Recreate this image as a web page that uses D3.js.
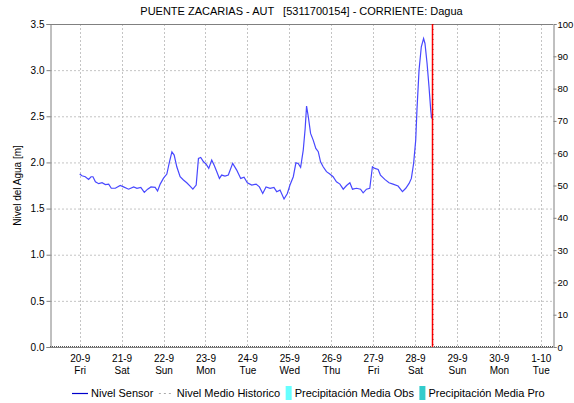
<!DOCTYPE html>
<html>
<head>
<meta charset="utf-8">
<script src="https://cdn.jsdelivr.net/npm/d3@7"></script>
<style>
  body { margin: 0; background: #fff; }
  svg { font-family: "Liberation Sans", Arial, sans-serif; }
</style>
</head>
<body>
<svg id="chart" width="574" height="403"></svg>
<script>
const title = "PUENTE ZACARIAS - AUT   [5311700154] - CORRIENTE: Dagua";
const yLabel = "Nivel del Agua [m]";

// hours after 20-9 00:00
const hours = [0, 1.3, 3.2, 5.1, 6.5, 7.6, 9.0, 10.9, 12.8, 14.7, 16.6, 18.1, 20.4, 23.2,
  25.1, 28.0, 30.9, 32.8, 35.0, 37.0, 38.9, 40.8, 43.2, 44.6, 46.1, 48.0, 49.9, 51.4,
  52.8, 54.1, 55.6, 57.5, 59.4, 61.3, 63.2, 64.8, 66.7, 68.0, 69.3, 70.9, 72.4, 73.9,
  75.6, 77.0, 78.5, 80.0, 81.3, 83.2, 85.1, 87.6, 89.9, 92.2, 94.1, 96.0, 98.5, 101.0,
  102.9, 104.8, 106.7, 109.0, 111.2, 112.8, 114.7, 117.0, 118.9, 120.4, 122.3, 123.8,
  125.1, 126.5, 128.0, 129.1, 129.9, 130.9, 132.2, 133.7, 135.2, 136.6, 137.9, 139.4,
  141.3, 143.2, 145.1, 147.0, 149.0, 150.9, 152.8, 154.7, 156.2, 158.5, 160.8, 162.3,
  164.2, 166.1, 167.6, 169.0, 170.9, 172.2, 174.7, 177.1, 179.4, 182.3, 184.8, 186.7,
  188.6, 189.9, 191.2, 192.4, 193.1, 194.3, 195.6, 196.9, 197.7, 198.9, 200.0, 201.0, 201.5];

const nivelSensor = [1.874, 1.856, 1.845, 1.816, 1.845, 1.845, 1.79, 1.77, 1.78, 1.76, 1.765,
  1.72, 1.72, 1.75, 1.735, 1.71, 1.735, 1.72, 1.73, 1.675, 1.71, 1.735, 1.73, 1.69, 1.765,
  1.83, 1.874, 2.007, 2.115, 2.08, 1.953, 1.845, 1.81, 1.78, 1.744, 1.71, 1.755, 2.043,
  2.054, 2.007, 1.982, 1.935, 2.025, 1.97, 1.9, 1.827, 1.863, 1.852, 1.863, 1.99, 1.917,
  1.827, 1.84, 1.78, 1.755, 1.765, 1.735, 1.664, 1.735, 1.72, 1.73, 1.683, 1.70, 1.603,
  1.664, 1.755, 1.845, 1.996, 1.989, 1.946, 2.134, 2.368, 2.61, 2.495, 2.314, 2.242, 2.152,
  2.116, 2.007, 1.953, 1.90, 1.874, 1.845, 1.79, 1.765, 1.71, 1.75, 1.78, 1.71, 1.72, 1.71,
  1.671, 1.71, 1.72, 1.953, 1.935, 1.924, 1.863, 1.816, 1.78, 1.765, 1.744, 1.683, 1.72,
  1.773, 1.827, 1.99, 2.242, 2.567, 3.0, 3.253, 3.343, 3.289, 3.072, 2.82, 2.567, 2.476];

const dayLabels = ["20-9", "21-9", "22-9", "23-9", "24-9", "25-9", "26-9", "27-9", "28-9", "29-9", "30-9", "1-10"];
const dayNames = ["Fri", "Sat", "Sun", "Mon", "Tue", "Wed", "Thu", "Fri", "Sat", "Sun", "Mon", "Tue"];
const leftTicks = [0, 0.5, 1.0, 1.5, 2.0, 2.5, 3.0, 3.5];
const rightTicks = [0, 10, 20, 30, 40, 50, 60, 70, 80, 90, 100];
const legendItems = ["Nivel Sensor", "Nivel Medio Historico", "Precipitación Media Obs", "Precipitación Media Pro"];

const t0 = new Date(2024, 8, 20, 0, 0);
const data = hours.map((h, i) => ({ t: new Date(t0.getTime() + h * 3600e3), v: nivelSensor[i] }));
const days = dayLabels.map((d, i) => d3.timeDay.offset(t0, i));
const now = data[data.length - 1].t;

const svg = d3.select("#chart");
const margin = { top: 24, right: 21, bottom: 56, left: 50 };
const W = 574, H = 403;
const x0 = margin.left, x1 = W - margin.right, yTop = margin.top, yBot = H - margin.bottom;
const font = "Liberation Sans, Arial, sans-serif";

const x = d3.scaleTime()
  .domain([d3.timeHour.offset(t0, -17), d3.timeHour.offset(t0, 11 * 24 + 7)])
  .range([x0, x1]);
const y = d3.scaleLinear().domain([0, 3.5]).range([yBot, yTop]);
const y2 = d3.scaleLinear().domain([0, 100]).range([yBot, yTop]);

// grid
svg.append("g")
  .selectAll("line")
  .data(leftTicks.filter(d => d > 0 && d < 3.5))
  .join("line")
  .attr("x1", x0).attr("x2", x1)
  .attr("y1", d => y(d) + 0.5).attr("y2", d => y(d) + 0.5)
  .attr("stroke", "#c4c4c4").attr("stroke-dasharray", "2,2");

svg.append("g")
  .selectAll("line")
  .data(days)
  .join("line")
  .attr("x1", d => Math.round(x(d)) + 0.5).attr("x2", d => Math.round(x(d)) + 0.5)
  .attr("y1", yTop).attr("y2", yBot)
  .attr("stroke", "#c4c4c4").attr("stroke-dasharray", "2,2");

// frame
svg.append("line").attr("x1", x0).attr("x2", x1).attr("y1", yTop + 0.5).attr("y2", yTop + 0.5)
  .attr("stroke", "#808080");

// left axis
const gl = svg.append("g").attr("transform", `translate(${x0 + 0.5},0)`)
  .call(d3.axisLeft(y).tickValues(leftTicks).tickFormat(d3.format(".1f")).tickSize(4).tickPadding(2));
// right axis
const gr = svg.append("g").attr("transform", `translate(${x1 + 0.5},0)`)
  .call(d3.axisRight(y2).tickValues(rightTicks).tickSize(3).tickPadding(1));
[gl, gr].forEach(g => {
  g.select(".domain").attr("stroke", "#808080");
  g.selectAll(".tick line").attr("stroke", "#808080");
  g.selectAll(".tick text").attr("fill", "#000").style("font-size", "10px")
    .style("font-family", font);
});
gr.selectAll(".tick text").style("font-size", "9.5px");

// x axis labels
const gx = svg.append("g").attr("transform", `translate(0,${yBot})`)
  .call(d3.axisBottom(x).tickValues(days).tickSize(0).tickPadding(8).tickFormat((d, i) => dayLabels[i]));
gx.select(".domain").remove();
gx.selectAll(".tick text").style("font-size", "10px").attr("fill", "#000")
  .style("font-family", font);
gx.selectAll(".tick").append("text")
  .attr("y", 20).attr("dy", "0.71em").attr("fill", "#000").attr("text-anchor", "middle")
  .style("font-size", "10px").style("font-family", font)
  .text((d, i) => dayNames[i]);

// bottom line (precipitation baseline)
svg.append("line").attr("x1", x0).attr("x2", x1).attr("y1", yBot + 0.5).attr("y2", yBot + 0.5)
  .attr("stroke", "#808080");
svg.append("line").attr("x1", x0).attr("x2", x1).attr("y1", yBot - 0.5).attr("y2", yBot - 0.5)
  .attr("stroke", "#555").attr("stroke-dasharray", "1,1");

// sensor line
svg.append("path")
  .datum(data)
  .attr("fill", "none")
  .attr("stroke", "#4848ff")
  .attr("stroke-width", 1.2)
  .attr("d", d3.line().x(d => x(d.t)).y(d => y(d.v)));

// now line
const xn = Math.round(x(now)) + 0.5;
svg.append("line").attr("x1", xn).attr("x2", xn).attr("y1", yTop).attr("y2", yBot)
  .attr("stroke", "#ff0000").attr("stroke-width", 1.5);
svg.append("line").attr("x1", xn + 0.5).attr("x2", xn + 0.5).attr("y1", yTop).attr("y2", yBot)
  .attr("stroke", "#a00000").attr("stroke-width", 0.8).attr("stroke-dasharray", "1,4");

// title
svg.append("text").attr("x", (x0 + x1) / 2).attr("y", 15).attr("text-anchor", "middle")
  .style("font-size", "11px").style("white-space", "pre").attr("fill", "#000")
  .text(title);

// y label
svg.append("text")
  .attr("transform", `translate(21,${(yTop + yBot) / 2}) rotate(-90)`)
  .attr("text-anchor", "middle").style("font-size", "10px").attr("fill", "#000")
  .text(yLabel);

// legend
const lg = svg.append("g").attr("transform", "translate(0,393)");
let lx = 72;
legendItems.forEach((name, i) => {
  if (i === 0) {
    lg.append("line").attr("x1", lx).attr("x2", lx + 16).attr("y1", 0.5).attr("y2", 0.5)
      .attr("stroke", "#0000cc").attr("stroke-width", 1.2);
    lx += 19;
  } else if (i === 1) {
    lg.append("line").attr("x1", lx).attr("x2", lx + 15).attr("y1", 0.5).attr("y2", 0.5)
      .attr("stroke", "#aaaaaa").attr("stroke-dasharray", "2,3");
    lx += 18;
  } else {
    lg.append("rect").attr("x", lx).attr("y", -7).attr("width", 6).attr("height", 14)
      .attr("fill", i === 2 ? "#66ffff" : "#33cccc");
    lx += 9;
  }
  const t = lg.append("text").attr("x", lx).attr("y", 4).style("font-size", "11px")
    .attr("fill", "#000").text(name);
  lx += t.node().getComputedTextLength() + 5.5;
});
</script>
</body>
</html>
